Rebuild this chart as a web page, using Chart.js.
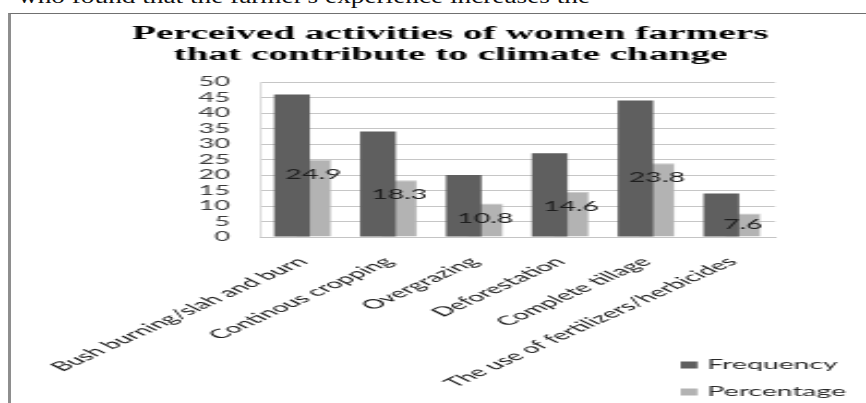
<!DOCTYPE html>
<html>
<head>
<meta charset="utf-8">
<script src="https://cdn.jsdelivr.net/npm/chart.js@4.4.1/dist/chart.umd.min.js"></script>
<style>
  html, body { margin: 0; padding: 0; background: #fff; overflow: hidden; }
  body { width: 866px; height: 403px; position: relative; }
  #lead {
    position: absolute; left: 18px; top: -17px; white-space: nowrap;
    font-family: "Liberation Serif", "Times New Roman", serif; font-size: 22px;
    color: #111; transform-origin: 0 0;
  }
  #frame {
    position: absolute; left: 8px; top: 13px; width: 900px; height: 450px;
    border-left: 3px solid #8e8e8e; border-top: 1px solid #707070;
  }
  #chart {
    position: absolute; left: 0; top: 0;
    transform-origin: 0 0;
  }
</style>
</head>
<body>
<div id="lead">who found that the farmer's experience increases the</div>
<div id="frame"></div>
<canvas id="chart" width="397" height="403"></canvas>
<script>
// data
const categories = [
  "Bush burning/slah and burn",
  "Continous cropping",
  "Overgrazing",
  "Deforestation",
  "Complete tillage",
  "The use of fertilizers/herbicides",
];
const frequency = [46, 34, 20, 27, 44, 14];
const percentage = [24.9, 18.3, 10.8, 14.6, 23.8, 7.6];
const titleLines = ["Perceived activities of women farmers", "that contribute to climate change"];
const yMin = 0, yMax = 50, yStep = 5;

// the reference is stretched sideways, so the chart is drawn narrow and scaled
const STRETCH = 866 / 397;
const canvas = document.getElementById("chart");
canvas.style.transform = `scaleX(${STRETCH})`;

// fit the lead-in line of body text to its width in the picture
const lead = document.getElementById("lead");
lead.style.transform = `scaleX(${572 / lead.getBoundingClientRect().width})`;

const SANS = "Lato, 'Open Sans', sans-serif";

// value labels sit near the top inside the Percentage bars
const valueLabels = {
  id: "valueLabels",
  afterDatasetsDraw(chart) {
    const { ctx } = chart;
    const meta = chart.getDatasetMeta(1);
    ctx.save();
    ctx.font = `13px ${SANS}`;
    ctx.fillStyle = "#1e1e1e";
    ctx.textAlign = "center";
    ctx.textBaseline = "middle";
    meta.data.forEach((bar, i) => {
      const y = Math.min(bar.y + 15, (bar.y + bar.base) / 2);
      ctx.fillText(String(percentage[i]), bar.x, y);
    });
    ctx.restore();
  },
};

// vertical legend at the lower right
const sideLegend = {
  id: "sideLegend",
  afterDraw(chart) {
    const { ctx } = chart;
    ctx.save();
    ctx.font = `13px ${SANS}`;
    ctx.textBaseline = "middle";
    chart.data.datasets.forEach((ds, i) => {
      const y = 365 + i * 27;
      ctx.fillStyle = ds.backgroundColor;
      ctx.fillRect(312, y - 3.5, 7.8, 7);
      ctx.fillStyle = "#2a2a2a";
      ctx.fillText(ds.label, 324.3, y);
    });
    ctx.restore();
  },
};

new Chart(canvas, {
  type: "bar",
  data: {
    labels: categories,
    datasets: [
      {
        label: "Frequency",
        data: frequency,
        backgroundColor: "#5f5f5f",
        categoryPercentage: 0.5,
        barPercentage: 1.66,
      },
      {
        label: "Percentage",
        data: percentage,
        backgroundColor: "#b3b3b3",
        borderColor: "#c9c9c9",
        borderWidth: { left: 0.4, right: 0.4, top: 1, bottom: 0 },
        categoryPercentage: 0.5,
        barPercentage: 1.66,
      },
    ],
  },
  options: {
    responsive: false,
    animation: false,
    layout: { padding: { left: 57.5, right: 41.7, top: 0, bottom: 0 } },
    plugins: {
      legend: { display: false },
      tooltip: { enabled: false },
      title: {
        display: true,
        text: titleLines,
        color: "#000",
        font: { family: "'Liberation Serif', 'Times New Roman', serif", size: 18, weight: "bold", lineHeight: 1.17 },
        padding: { top: 23.5, bottom: 16.4 },
      },
    },
    scales: {
      x: {
        grid: { display: false, drawTicks: false },
        border: { color: "#c4c4c4", width: 1 },
        ticks: {
          autoSkip: false,
          minRotation: 44,
          maxRotation: 44,
          padding: 17,
          color: "#1a1a1a",
          font: { family: SANS, size: 13 },
        },
        afterFit(scale) { scale.height = 166; },
      },
      y: {
        min: yMin,
        max: yMax,
        ticks: {
          stepSize: yStep,
          autoSkip: false,
          padding: 13.7,
          color: "#3a3a3a",
          font: { family: SANS, size: 12.5 },
        },
        grid: { color: "#c6c6c6", lineWidth: 1, drawTicks: false },
        border: { color: "#c4c4c4", width: 0.6 },
        afterFit(scale) { scale.width = 45.6; },
      },
    },
  },
  plugins: [valueLabels, sideLegend],
});
</script>
</body>
</html>
